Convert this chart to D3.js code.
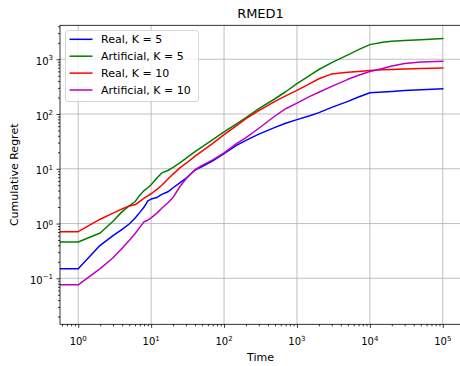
<!DOCTYPE html>
<html>
<head>
<meta charset="utf-8">
<script src="https://cdn.jsdelivr.net/npm/d3@7"></script>
<style>
  html, body { margin: 0; padding: 0; background: #fff; }
  svg { display: block; font-family: "DejaVu Sans", sans-serif; }
</style>
</head>
<body>
<svg id="chart" width="460" height="366"></svg>
<script>
const times = [0.5, 1, 2, 3, 4, 5, 6, 7, 8, 9, 10, 12, 14, 17, 20, 25, 30, 40, 50, 70, 100, 150, 200, 300, 500, 700, 1000, 1500, 2000, 3000, 5000, 7000, 10000, 15000, 20000, 30000, 50000, 100000];

const realK5 = [0.149, 0.149, 0.40, 0.60, 0.78, 0.98, 1.25, 1.6, 2.0, 2.6, 2.8, 3.0, 3.4, 3.8, 4.5, 5.6, 6.7, 9.5, 11.0, 14.0, 19.0, 27, 33, 43, 57, 68, 79, 93, 106, 132, 170, 205, 245, 252, 258, 268, 278, 290];
const artK5 = [0.46, 0.46, 0.67, 1.1, 1.65, 2.1, 2.5, 3.3, 4.0, 4.5, 5.1, 6.8, 8.4, 9.3, 10.6, 13, 15.5, 20.5, 25, 34, 47, 67, 86, 125, 190, 255, 360, 510, 650, 870, 1200, 1500, 1850, 2050, 2140, 2200, 2280, 2380];
const realK10 = [0.71, 0.71, 1.2, 1.55, 1.85, 2.1, 2.2, 2.55, 2.9, 3.2, 3.5, 4.2, 5.0, 6.5, 8.0, 10.5, 12.5, 17, 21, 29, 42, 62, 82, 115, 170, 215, 270, 360, 440, 540, 580, 600, 620, 640, 650, 665, 680, 695];
const artK10 = [0.076, 0.076, 0.15, 0.237, 0.355, 0.49, 0.65, 0.85, 1.08, 1.15, 1.27, 1.55, 1.9, 2.4, 3.0, 4.8, 6.5, 9.6, 11.5, 14.5, 19.5, 29, 37, 55, 92, 125, 158, 210, 250, 320, 430, 510, 597, 680, 750, 840, 890, 915];

const seriesNames = ["Real, K = 5", "Artificial, K = 5", "Real, K = 10", "Artificial, K = 10"];
const seriesColors = ["#0000ff", "#008000", "#ff0000", "#bf00bf"];
const seriesValues = [realK5, artK5, realK10, artK10];

const xTickExps = [0, 1, 2, 3, 4, 5];
const yTickExps = [-1, 0, 1, 2, 3];

const title = "RMED1";
const xLabel = "Time";
const yLabel = "Cumulative Regret";

const svg = d3.select("#chart");
const m = { left: 60, top: 25.3, right: 461, bottom: 324.3 };

const x = d3.scaleLog().domain([Math.pow(10, -0.25), Math.pow(10, 5.25)]).range([m.left, m.right]);
const y = d3.scaleLog().domain([Math.pow(10, -1.84), Math.pow(10, 3.62)]).range([m.bottom, m.top]);

svg.append("defs").append("clipPath").attr("id", "clip")
  .append("rect").attr("x", m.left).attr("y", m.top)
  .attr("width", m.right - m.left).attr("height", m.bottom - m.top);

// grid
const g = svg.append("g");
xTickExps.forEach(e => {
  g.append("line").attr("x1", x(Math.pow(10, e))).attr("x2", x(Math.pow(10, e)))
    .attr("y1", m.top).attr("y2", m.bottom).attr("stroke", "#b0b0b0").attr("stroke-width", 0.8);
});
yTickExps.forEach(e => {
  g.append("line").attr("y1", y(Math.pow(10, e))).attr("y2", y(Math.pow(10, e)))
    .attr("x1", m.left).attr("x2", m.right).attr("stroke", "#b0b0b0").attr("stroke-width", 0.8);
});

// lines
const line = d3.line().x((d, i) => x(times[i])).y(d => y(d));
const lg = svg.append("g").attr("clip-path", "url(#clip)");
seriesValues.forEach((vals, k) => {
  lg.append("path").datum(vals).attr("d", line)
    .attr("fill", "none").attr("stroke", seriesColors[k]).attr("stroke-width", 1.5)
    .attr("stroke-linejoin", "round").attr("stroke-linecap", "square");
});

// axes
const minorX = [], minorY = [];
for (let e = -1; e <= 5; e++) for (let k = 2; k <= 9; k++) {
  const v = k * Math.pow(10, e);
  if (v >= x.domain()[0] && v <= x.domain()[1]) minorX.push(v);
}
for (let e = -2; e <= 3; e++) for (let k = 2; k <= 9; k++) {
  const v = k * Math.pow(10, e);
  if (v >= y.domain()[0] && v <= y.domain()[1]) minorY.push(v);
}

const xAxis = d3.axisBottom(x).tickValues(xTickExps.map(e => Math.pow(10, e))).tickSize(3.5).tickPadding(3.5).tickFormat("");
const xAxisMinor = d3.axisBottom(x).tickValues(minorX).tickSize(2).tickFormat("");
const yAxis = d3.axisLeft(y).tickValues(yTickExps.map(e => Math.pow(10, e))).tickSize(3.5).tickFormat("");
const yAxisMinor = d3.axisLeft(y).tickValues(minorY).tickSize(2).tickFormat("");

function styleAxis(sel) {
  sel.select(".domain").remove();
  sel.selectAll(".tick line").attr("stroke", "#000").attr("stroke-width", 0.8);
}
svg.append("g").attr("transform", `translate(0,${m.bottom})`).call(xAxis).call(styleAxis);
svg.append("g").attr("transform", `translate(0,${m.bottom})`).call(xAxisMinor).call(styleAxis);
svg.append("g").attr("transform", `translate(${m.left},0)`).call(yAxis).call(styleAxis);
svg.append("g").attr("transform", `translate(${m.left},0)`).call(yAxisMinor).call(styleAxis);

// spines
svg.append("rect").attr("x", m.left).attr("y", m.top).attr("width", m.right - m.left).attr("height", m.bottom - m.top)
  .attr("fill", "none").attr("stroke", "#000").attr("stroke-width", 0.8);

// tick labels
function expText(e) { return e < 0 ? "\u2212" + Math.abs(e) : String(e); }
xTickExps.forEach(e => {
  const t = svg.append("text").attr("x", x(Math.pow(10, e))).attr("y", 345)
    .attr("text-anchor", "middle").attr("font-size", 10).attr("fill", "#000");
  t.append("tspan").text("10");
  t.append("tspan").attr("dy", -4.5).attr("font-size", 7).text(expText(e));
});
yTickExps.forEach(e => {
  const t = svg.append("text").attr("x", 53).attr("y", y(Math.pow(10, e)) + 5.5)
    .attr("text-anchor", "end").attr("font-size", 10).attr("fill", "#000");
  t.append("tspan").text("10");
  t.append("tspan").attr("dy", -4.5).attr("font-size", 7).text(expText(e));
});

// labels
svg.append("text").attr("x", (m.left + m.right) / 2).attr("y", 17.5).attr("text-anchor", "middle")
  .attr("font-size", 13).attr("fill", "#000").text(title);
svg.append("text").attr("x", (m.left + m.right) / 2).attr("y", 361).attr("text-anchor", "middle")
  .attr("font-size", 11).attr("fill", "#000").text(xLabel);
svg.append("text").attr("transform", `translate(18,${(m.top + m.bottom) / 2}) rotate(-90)`)
  .attr("text-anchor", "middle").attr("font-size", 11).attr("fill", "#000").text(yLabel);

// legend
const leg = svg.append("g");
leg.append("rect").attr("x", 65.5).attr("y", 30.5).attr("width", 133).attr("height", 71).attr("rx", 2.5)
  .attr("fill", "#fff").attr("fill-opacity", 0.8).attr("stroke", "#cccccc").attr("stroke-width", 0.8);
seriesNames.forEach((name, k) => {
  const yy = 39.3 + k * 16.9;
  leg.append("line").attr("x1", 69.5).attr("x2", 92.5).attr("y1", yy).attr("y2", yy)
    .attr("stroke", seriesColors[k]).attr("stroke-width", 1.5);
  leg.append("text").attr("x", 101).attr("y", yy + 4).attr("font-size", 11).attr("fill", "#000").text(name);
});
</script>
</body>
</html>
